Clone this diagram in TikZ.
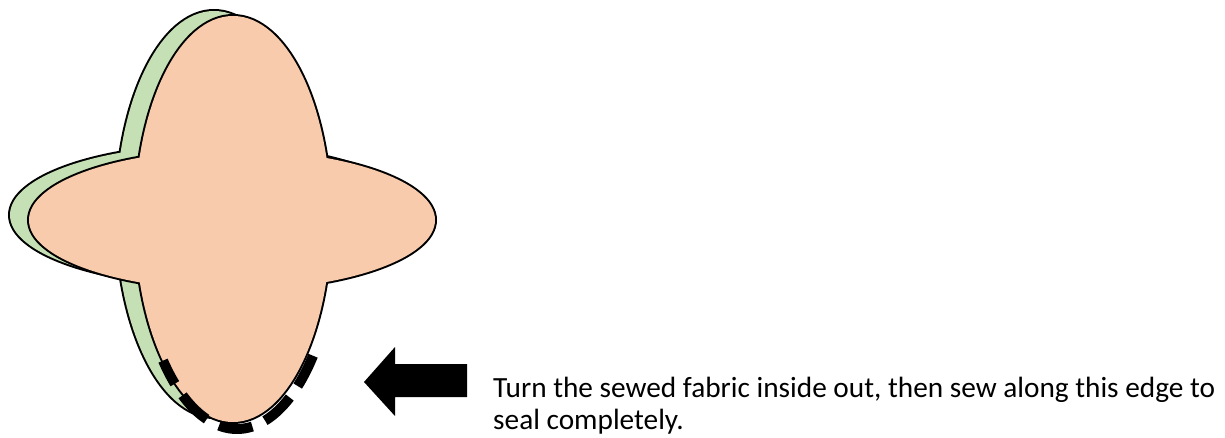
\documentclass[tikz,border=0pt]{standalone}
\usepackage{fontspec}
\setmainfont{Carlito}
\definecolor{peach}{HTML}{F8CBAD}
\definecolor{leaf}{HTML}{C5E0B4}
\begin{document}
\begin{tikzpicture}[x=1pt,y=-1pt,
  outline/.style={draw=black,line width=4pt},
  seam/.style={draw=black,line width=10pt,dash pattern=on 34pt off 14pt},
  label/.style={anchor=base west,inner sep=0pt,font=\fontsize{29.3}{32}\selectfont}]
\useasboundingbox (0,0) rectangle (1225,438);
% back (green) piece
\draw[outline] (214,214) ellipse [x radius=98, y radius=203];
\draw[outline] (213,215) ellipse [x radius=203, y radius=70];
\fill[leaf] (214,214) ellipse [x radius=98, y radius=203];
\fill[leaf] (213,215) ellipse [x radius=203, y radius=70];
% front (peach) piece
\draw[outline] (233,219) ellipse [x radius=98, y radius=203];
\draw[outline] (232,220) ellipse [x radius=203, y radius=70];
\fill[peach] (233,219) ellipse [x radius=98, y radius=203];
\fill[peach] (232,220) ellipse [x radius=203, y radius=70];
% seam
\draw[seam] plot[domain=40.5:137.7,samples=80,smooth] ({237+100*cos(\x)},{220+209*sin(\x)});
% arrow
\fill[black] (364,382) -- (395,347) -- (395,364) -- (467,364) -- (467,397) -- (395,397) -- (395,416) -- cycle;
% text
\node[label] (line1) at (493,397) {Turn the sewed fabric inside out, then sew along this edge to};
\node[label] (line2) at (493,429) {seal completely.};
\end{tikzpicture}
\end{document}
